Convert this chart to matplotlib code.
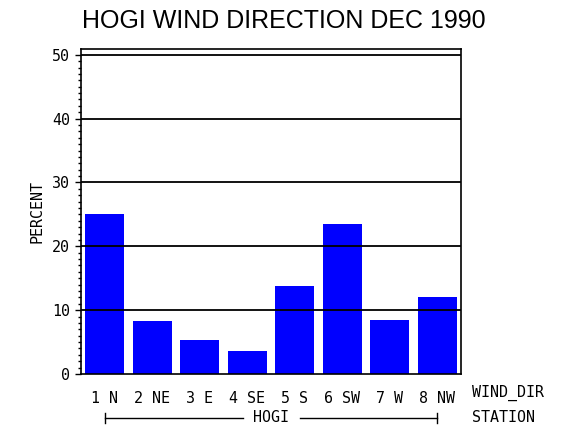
import numpy as np
import matplotlib
matplotlib.use("Agg")
import matplotlib.pyplot as plt
from matplotlib.ticker import MultipleLocator
import matplotlib.transforms as mtransforms

# Wind direction categories and percent of hours
categories = ["1 N", "2 NE", "3 E", "4 SE", "5 S", "6 SW", "7 W", "8 NW"]
percent = [25.1, 8.3, 5.3, 3.6, 13.8, 23.5, 8.5, 12.1]
station = "HOGI"
yticks = [0, 10, 20, 30, 40, 50]

mono = "DejaVu Sans Mono"
fs = 10.8

fig = plt.figure(figsize=(5.7, 4.3), dpi=100)
ax = fig.add_axes([81 / 570, 1 - 374 / 430, 380 / 570, 325 / 430])

x = np.arange(1, len(categories) + 1)
ax.bar(x, percent, width=0.82, color="#0000ff", zorder=1)

# horizontal reference lines drawn over the bars
for t in yticks[1:]:
    ax.axhline(t, color="black", lw=1.3, zorder=3)

ax.set_xlim(0.5, len(categories) + 0.5)
ax.set_ylim(0, 50.9)
ax.set_xticks(x)
ax.set_xticklabels(categories, family=mono, fontsize=fs)
ax.tick_params(axis="x", length=0, pad=12)
ax.set_yticks(yticks)
ax.set_yticklabels([str(t) for t in yticks], family=mono, fontsize=fs)
ax.yaxis.set_minor_locator(MultipleLocator(1))
ax.tick_params(axis="y", which="major", length=4, width=1, pad=4)
ax.tick_params(axis="y", which="minor", length=2.2, width=1)
for s in ax.spines.values():
    s.set_linewidth(1.2)

ax.set_ylabel("PERCENT", family=mono, fontsize=fs, labelpad=5)

fig.text(284 / 570, 1 - 21 / 430, "HOGI WIND DIRECTION DEC 1990",
         family="Liberation Sans", fontsize=18, ha="center", va="center")

# axis names on the right
fig.text(472 / 570, 1 - 393 / 430, "WIND_DIR", family=mono, fontsize=fs,
         ha="left", va="center")
fig.text(472 / 570, 1 - 418 / 430, "STATION", family=mono, fontsize=fs,
         ha="left", va="center")

# station bracket under the categories
trans = mtransforms.blended_transform_factory(ax.transData, fig.transFigure)
yb = 1 - 418 / 430
xc = (x[0] + x[-1]) / 2
ax.text(xc, yb, station, transform=trans, family=mono, fontsize=fs,
        ha="center", va="center")
ax.plot([x[0], xc - 0.6], [yb, yb], color="black", lw=1, transform=trans,
        clip_on=False)
ax.plot([xc + 0.6, x[-1]], [yb, yb], color="black", lw=1, transform=trans,
        clip_on=False)
for xe in (x[0], x[-1]):
    ax.plot([xe, xe], [yb - 5 / 430, yb + 5 / 430], color="black", lw=1,
            transform=trans, clip_on=False)

fig.savefig("out.png", dpi=100)
